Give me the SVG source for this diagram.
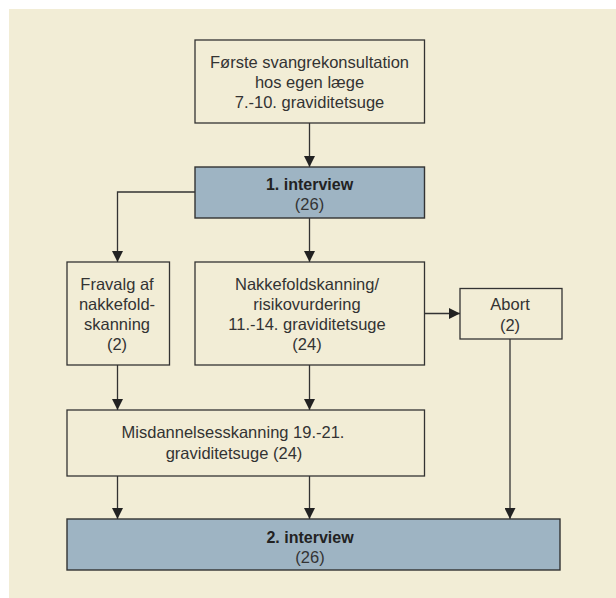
<svg xmlns="http://www.w3.org/2000/svg" width="616" height="598" viewBox="0 0 616 598">
<defs>
<style>
.box{fill:#F2EDD6;stroke:#333;stroke-width:1.3}
.blue{fill:#9EB4C3;stroke:#333;stroke-width:1.4}
.t{font-family:"Liberation Sans",Arial,sans-serif;font-size:16.5px;fill:#333;text-anchor:middle}
.b{font-family:"Liberation Sans",Arial,sans-serif;font-size:16px;font-weight:bold;fill:#222;text-anchor:middle}
.c{fill:none;stroke:#333;stroke-width:1.3}
</style>
<marker id="ah" markerUnits="userSpaceOnUse" markerWidth="11" markerHeight="11" refX="11" refY="5.5" orient="auto">
<path d="M0,0 L11,5.5 L0,11 z" fill="#222"/>
</marker>
</defs>
<rect x="9" y="9" width="607" height="589" fill="#F2EDD6"/>
<g id="connectors">
<line class="c" x1="309.5" y1="123" x2="309.5" y2="167" marker-end="url(#ah)"/>
<polyline class="c" points="195,192 117.5,192 117.5,262" marker-end="url(#ah)"/>
<line class="c" x1="309.5" y1="218" x2="309.5" y2="262" marker-end="url(#ah)"/>
<line class="c" x1="424" y1="313.5" x2="460" y2="313.5" marker-end="url(#ah)"/>
<line class="c" x1="117.5" y1="365" x2="117.5" y2="410" marker-end="url(#ah)"/>
<line class="c" x1="309.5" y1="365" x2="309.5" y2="410" marker-end="url(#ah)"/>
<line class="c" x1="117.5" y1="476" x2="117.5" y2="519" marker-end="url(#ah)"/>
<line class="c" x1="309.5" y1="476" x2="309.5" y2="519" marker-end="url(#ah)"/>
<line class="c" x1="510" y1="339" x2="510" y2="519" marker-end="url(#ah)"/>
</g>
<g id="foerste">
<rect class="box" x="195" y="40" width="229.5" height="83"/>
<text class="t" x="309.5" y="68">Første svangrekonsultation</text>
<text class="t" x="309.5" y="88">hos egen læge</text>
<text class="t" x="309.5" y="107.5">7.-10. graviditetsuge</text>
</g>
<g id="interview1">
<rect class="blue" x="195" y="167" width="229.5" height="51"/>
<text class="b" x="309.5" y="190">1. interview</text>
<text class="t" x="309.5" y="210">(26)</text>
</g>
<g id="fravalg">
<rect class="box" x="67" y="262" width="102.5" height="103"/>
<text class="t" x="117" y="290">Fravalg af</text>
<text class="t" x="117" y="310">nakkefold-</text>
<text class="t" x="117" y="330">skanning</text>
<text class="t" x="117" y="350">(2)</text>
</g>
<g id="nakkefold">
<rect class="box" x="195" y="262" width="229.5" height="103"/>
<text class="t" x="307" y="290">Nakkefoldskanning/</text>
<text class="t" x="307" y="310">risikovurdering</text>
<text class="t" x="307" y="330">11.-14. graviditetsuge</text>
<text class="t" x="307" y="350">(24)</text>
</g>
<g id="abort">
<rect class="box" x="460" y="288.5" width="102" height="50.5"/>
<text class="t" x="510" y="310">Abort</text>
<text class="t" x="510" y="331">(2)</text>
</g>
<g id="misdannelses">
<rect class="box" x="67" y="410" width="357.5" height="66"/>
<text class="t" x="233" y="438">Misdannelsesskanning 19.-21.</text>
<text class="t" x="234" y="459">graviditetsuge (24)</text>
</g>
<g id="interview2">
<rect class="blue" x="67" y="519" width="493" height="51"/>
<text class="b" x="310" y="543">2. interview</text>
<text class="t" x="310" y="563">(26)</text>
</g>
</svg>
